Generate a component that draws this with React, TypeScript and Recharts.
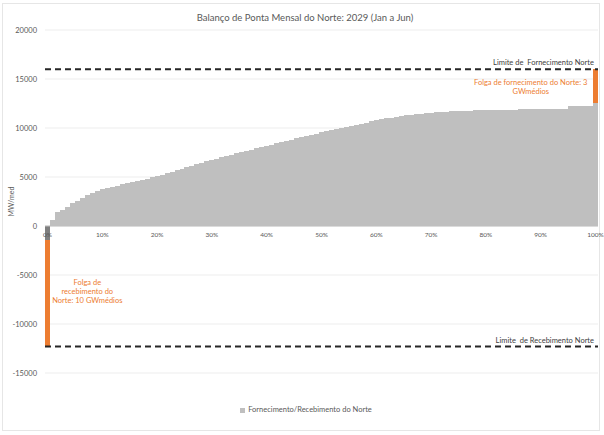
import React from 'react';
import { ComposedChart, Bar, XAxis, YAxis, CartesianGrid, ReferenceLine, ReferenceDot } from 'recharts';

const title = 'Balanço de Ponta Mensal do Norte: 2029 (Jan a Jun)';
const seriesName = 'Fornecimento/Recebimento do Norte';
const yAxisTitle = 'MW/med';

// Sorted monthly balance (MWmed), 111 points from 0% to 100%
const balance = [
  -1430, 610, 1400, 1650, 1980, 2300, 2600, 2880, 3120, 3350,
  3550, 3750, 3880, 4000, 4120, 4240, 4360, 4480, 4600, 4720,
  4840, 4960, 5100, 5250, 5400, 5550, 5700, 5850, 6000, 6150,
  6300, 6450, 6600, 6750, 6880, 7010, 7140, 7270, 7400, 7530,
  7660, 7790, 7920, 8050, 8180, 8310, 8440, 8570, 8700, 8820,
  8940, 9060, 9170, 9280, 9390, 9600, 9700, 9800, 9900, 10000,
  10100, 10200, 10320, 10440, 10560, 10680, 10790, 10900, 10980, 11060,
  11140, 11210, 11280, 11350, 11400, 11450, 11500, 11550, 11600, 11630,
  11660, 11690, 11720, 11750, 11765, 11780, 11795, 11810, 11820, 11830,
  11840, 11850, 11860, 11870, 11880, 11890, 11900, 11905, 11910, 11920,
  11925, 11930, 11940, 11950, 11960, 12250, 12250, 12260, 12260, 12270,
  12550,
];

const limiteFornecimento = 16000;
const limiteRecebimento = -12300;

const xTickIdx = [0, 11, 22, 33, 44, 55, 66, 77, 88, 99, 110];
const xTickLabels = ['0%', '10%', '20%', '30%', '40%', '50%', '60%', '70%', '80%', '90%', '100%'];
const yTicks = [-15000, -10000, -5000, 0, 5000, 10000, 15000, 20000];

const labelFornecimento = 'Limite de\u00A0\u00A0Fornecimento Norte';
const labelRecebimento = 'Limite\u00A0\u00A0de Recebimento Norte';
const folgaFornecimento = ['Folga de fornecimento do Norte: 3', 'GWmédios'];
const folgaRecebimento = ['Folga de', 'recebimento do', 'Norte: 10 GWmédios'];
const folgaFornecimentoPos = { idx: 97, value: 14100 };
const folgaRecebimentoPos = { idx: 8, value: -6750 };

const last = balance.length - 1;
const data = balance.map((v, i) => ({
  idx: i,
  gray: v >= 0 ? v : 0,
  dark: v < 0 ? v : 0,
  orange: i === 0 ? limiteRecebimento - v : i === last ? limiteFornecimento - v : 0,
}));

const FONT = 'Lato, "Open Sans", sans-serif';
const ORANGE = '#ED7D31';

const MultiLine = (props: any) => {
  const { viewBox, lines } = props;
  const cx = viewBox.x + (viewBox.width || 0) / 2;
  const cy = viewBox.y + (viewBox.height || 0) / 2;
  const lh = 9;
  const n = lines.length;
  return (
    <text textAnchor="middle" fill={ORANGE} fontSize={7.5} fontFamily={FONT}>
      {lines.map((l: string, i: number) => (
        <tspan key={i} x={cx} y={cy + (i - (n - 1) / 2) * lh} dominantBaseline="middle">
          {l}
        </tspan>
      ))}
    </text>
  );
};

export default function App() {
  return (
    <div style={{ position: 'relative', width: 604, height: 435, background: '#fff', fontFamily: FONT }}>
      <style>{'body{margin:0;background:#fff;} .recharts-bar-rectangle path{shape-rendering:crispEdges;}'}</style>
      <div
        style={{
          position: 'absolute', left: 2, top: 3, width: 598, height: 428,
          border: '1px solid #E6E6E6', boxSizing: 'border-box',
        }}
      />
      <div
        style={{
          position: 'absolute', left: 0, top: 12, width: 610, textAlign: 'center',
          fontSize: 9.5, color: '#595959', fontFamily: FONT,
        }}
      >
        {title}
      </div>
      <div style={{ position: 'absolute', left: 0, top: 0 }}>
        <ComposedChart
          width={604}
          height={435}
          data={data}
          margin={{ top: 30, right: 6, bottom: 62, left: 0 }}
          barCategoryGap={0}
          barGap={0}
        >
          <CartesianGrid horizontal vertical={false} stroke="#EDEDED" strokeWidth={1} />
          <XAxis dataKey="idx" type="category" hide />
          <YAxis
            width={45}
            domain={[-15000, 20000]}
            ticks={yTicks}
            interval={0}
            axisLine={false}
            tickLine={false}
            tickSize={0}
            tickMargin={8}
            tick={{ fontSize: 7.5, fill: '#595959', fontFamily: FONT }}
            label={{
              value: yAxisTitle, angle: -90, position: 'insideLeft', offset: 12,
              style: { fontSize: 7, fill: '#595959', fontFamily: FONT, textAnchor: 'middle' },
            }}
          />
          <Bar dataKey="gray" stackId="a" fill="#BFBFBF" isAnimationActive={false} />
          <Bar dataKey="dark" stackId="a" fill="#7F7F7F" isAnimationActive={false} />
          <Bar dataKey="orange" stackId="a" fill={ORANGE} isAnimationActive={false} />
          <ReferenceLine y={0} stroke="#BFBFBF" strokeWidth={1} />
          <ReferenceLine
            y={limiteFornecimento}
            stroke="#262626"
            strokeWidth={2}
            strokeDasharray="6 4"
            label={{
              value: labelFornecimento, position: 'insideBottomRight', offset: 4,
              style: { fontSize: 7.5, fill: '#404040', fontFamily: FONT },
            }}
          />
          <ReferenceLine
            y={limiteRecebimento}
            stroke="#262626"
            strokeWidth={2}
            strokeDasharray="6 4"
            label={{
              value: labelRecebimento, position: 'insideBottomRight', offset: 4,
              style: { fontSize: 7.5, fill: '#404040', fontFamily: FONT },
            }}
          />
          {xTickIdx.map((ix, k) => (
            <ReferenceDot
              key={'t' + k}
              x={ix}
              y={0}
              r={0}
              fill="none"
              stroke="none"
              label={{
                value: xTickLabels[k], position: 'bottom', offset: 6,
                style: { fontSize: 6.5, fill: '#595959', fontFamily: FONT },
              }}
            />
          ))}
          <ReferenceDot
            x={folgaFornecimentoPos.idx}
            y={folgaFornecimentoPos.value}
            r={0}
            fill="none"
            stroke="none"
            label={(p: any) => <MultiLine {...p} lines={folgaFornecimento} />}
          />
          <ReferenceDot
            x={folgaRecebimentoPos.idx}
            y={folgaRecebimentoPos.value}
            r={0}
            fill="none"
            stroke="none"
            label={(p: any) => <MultiLine {...p} lines={folgaRecebimento} />}
          />
        </ComposedChart>
      </div>
      <div
        style={{
          position: 'absolute', left: 0, top: 405, width: 612, textAlign: 'center',
          fontSize: 7.5, color: '#595959', fontFamily: FONT, lineHeight: '10px',
        }}
      >
        <span style={{ display: 'inline-block', width: 5, height: 5, background: '#BFBFBF', marginRight: 3, verticalAlign: 'middle' }} />
        {seriesName}
      </div>
    </div>
  );
}
